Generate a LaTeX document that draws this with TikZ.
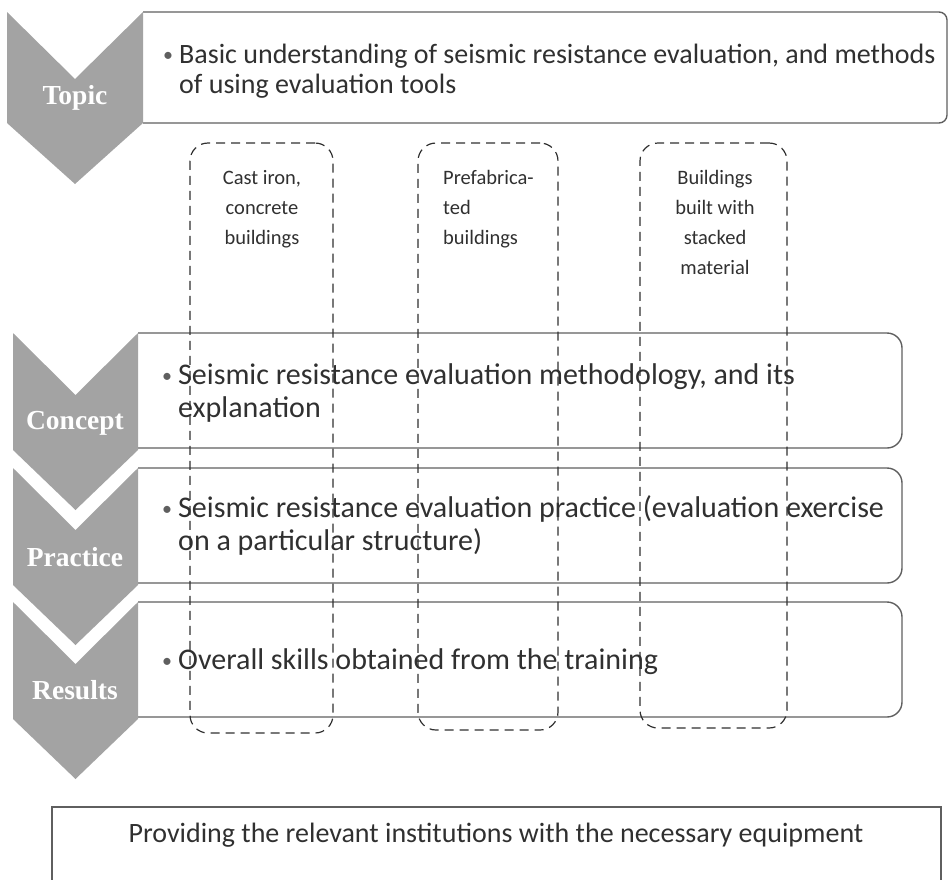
\documentclass[tikz,border=0pt]{standalone}
\usepackage{fontspec}
\setmainfont{Carlito}
\newfontfamily\labelfont{Liberation Serif}
\usepackage{tikz}
\usetikzlibrary{positioning}
\definecolor{chevGray}{RGB}{163,163,163}
\definecolor{inkGray}{RGB}{48,48,48}
\definecolor{lineGray}{RGB}{95,95,95}
\tikzstyle{chevron} = [fill=chevGray]
\tikzstyle{chevLabel} = [text=white,inner sep=0pt,font=\labelfont\bfseries\fontsize{27.5}{30}\selectfont]
\tikzstyle{panel} = [draw=lineGray,line width=1.4pt]
\tikzstyle{bulletText} = [anchor=base west,align=left,inner sep=0pt,text=inkGray,font=\fontsize{30}{33}\selectfont]
\tikzstyle{dashBox} = [draw=inkGray,dash pattern=on 9pt off 6pt,line width=1.2pt,rounded corners=18pt,inner sep=0pt]
\tikzstyle{boxText} = [anchor=north,align=center,inner sep=0pt,text=inkGray,font=\fontsize{20.5}{30}\selectfont]
\newcommand{\bul}{\makebox[16pt][l]{\raisebox{2pt}{\textcolor{lineGray}{\fontsize{20}{20}\selectfont\textbullet}}}}
\newcommand{\hang}{\hspace*{16pt}}

\begin{document}
\begin{tikzpicture}[x=1pt,y=-1pt]
		\useasboundingbox (0,0) rectangle (949,879);
		%panels
		\draw[panel,rounded corners=8pt](143,12)--(947,12)--(947,123)--(143,123);
		\draw[panel,rounded corners=15pt](138,333)--(902,333)--(902,448)--(138,448);
		\draw[panel,rounded corners=15pt](138,468)--(902,468)--(902,583)--(138,583);
		\draw[panel,rounded corners=15pt](138,602)--(902,602)--(902,717)--(138,717);
		\draw[panel](52,881)|-(941,807)--(941,881);
		%chevrons
		\fill[chevron](7,12)--(75,79)--(143,12)--(143,123)--(75,184)--(7,123)--cycle;
		\foreach \ytop in {333,468,602}{
			\fill[chevron](13,\ytop)--(75.5,\ytop+62)--(138,\ytop)--(138,\ytop+117)--(75.5,\ytop+177)--(13,\ytop+117)--cycle;
		}
		\node[chevLabel](topicLabel) at (75,98){Topic};
		\node[chevLabel](conceptLabel) at (75,423){Concept};
		\node[chevLabel](practiceLabel) at (75,557){Practice};
		\node[chevLabel](resultsLabel) at (75,690){Results};
		%texts
		\node[bulletText,font=\fontsize{28}{30}\selectfont](topicText) at (163,93){\bul Basic understanding of seismic resistance evaluation, and methods\\ \hang of using evaluation tools};
		\node[bulletText](conceptText) at (162,417){\bul Seismic resistance evaluation methodology, and its\\ \hang explanation};
		\node[bulletText](practiceText) at (162,550){\bul Seismic resistance evaluation practice (evaluation exercise\\ \hang on a particular structure)};
		\node[bulletText](resultsText) at (162,669){\bul Overall skills obtained from the training};
		\node[anchor=base,inner sep=0pt,text=inkGray,font=\fontsize{28}{30}\selectfont](equipmentText) at (496,842){Providing the relevant institutions with the necessary equipment};
		%building types
		\node[dashBox,minimum width=143,minimum height=590](castIron) at (261.5,438){};
		\node[dashBox,minimum width=140,minimum height=587](prefab) at (488,436.5){};
		\node[dashBox,minimum width=147,minimum height=585](stacked) at (713.5,435.5){};
		\node[boxText](castIronText) at (262,170){Cast iron,\\concrete\\buildings};
		\node[boxText,anchor=north west,align=left](prefabText) at (443,170){Prefabrica-\\ted\\buildings};
		\node[boxText](stackedText) at (715,170){Buildings\\built with\\stacked\\material};
	\end{tikzpicture}
\end{document}
